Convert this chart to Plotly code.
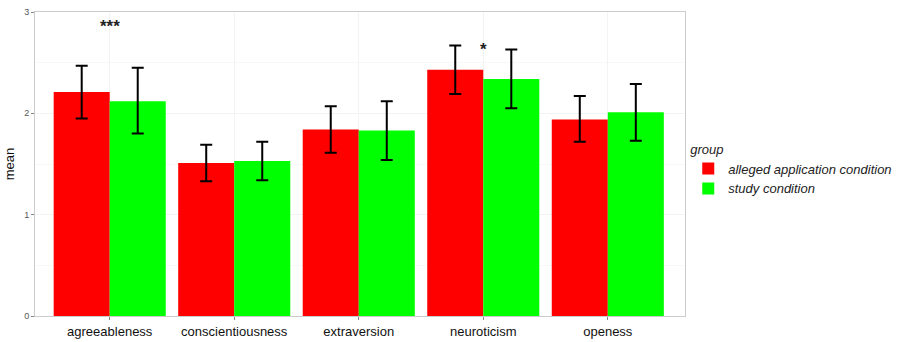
import plotly.graph_objects as go

categories = ["agreeableness", "conscientiousness", "extraversion", "neuroticism", "openess"]
groups = ["alleged application condition", "study condition"]
app_mean = [2.21, 1.51, 1.84, 2.43, 1.94]
app_low = [1.95, 1.33, 1.61, 2.19, 1.72]
app_high = [2.47, 1.69, 2.07, 2.67, 2.17]
study_mean = [2.12, 1.53, 1.83, 2.34, 2.01]
study_low = [1.80, 1.34, 1.54, 2.05, 1.73]
study_high = [2.45, 1.72, 2.12, 2.63, 2.29]
sig_labels = ["***", "", "", "*", ""]
sig_y = [2.86, None, None, 2.63, None]
y_ticks = [0, 1, 2, 3]

colors = ["#ff0000", "#00ff00"]

fig = go.Figure()
for name, m, lo, hi, c in [(groups[0], app_mean, app_low, app_high, colors[0]),
                           (groups[1], study_mean, study_low, study_high, colors[1])]:
    fig.add_trace(go.Bar(
        x=categories, y=m, name="<i>" + name + "</i>",
        marker=dict(color=c, line=dict(width=0)),
        error_y=dict(type="data", symmetric=False,
                     array=[h - v for h, v in zip(hi, m)],
                     arrayminus=[v - l for v, l in zip(m, lo)],
                     color="black", thickness=2, width=6),
    ))

for cat, lab, yv in zip(categories, sig_labels, sig_y):
    if lab:
        fig.add_annotation(x=cat, y=yv, text="<b>" + lab + "</b>", showarrow=False,
                           font=dict(size=17, color="#222222"), yanchor="middle")

fig.update_layout(
    width=907, height=342,
    margin=dict(l=35, r=222, t=12, b=26, autoexpand=False),
    paper_bgcolor="white", plot_bgcolor="white",
    barmode="group", bargap=0.1, bargroupgap=0,
    font=dict(family="Liberation Sans, Arial, sans-serif", color="#222222"),
    showlegend=True,
    legend=dict(
        title=dict(text="<i>group</i>", font=dict(size=13)),
        font=dict(size=13), x=1.005, xanchor="left", y=0.59, yanchor="top",
        itemsizing="constant", tracegroupgap=0, traceorder="normal",
    ),
)
fig.update_xaxes(
    range=[-0.6, 4.62], showline=True, linecolor="#cccccc", mirror=True,
    showgrid=True, gridcolor="#f3f3f3", ticks="outside", ticklen=3,
    tickcolor="#888888", tickfont=dict(size=13, color="#111111"),
    automargin=False,
)
fig.update_yaxes(
    range=[0, 3], tickvals=y_ticks, showline=True, linecolor="#cccccc", mirror=True,
    showgrid=True, gridcolor="#f3f3f3", ticks="outside", ticklen=3,
    tickcolor="#888888", tickfont=dict(size=9, color="#555555"),
    minor=dict(dtick=0.5, showgrid=True, gridcolor="#f8f8f8"),
    title=dict(text="mean", font=dict(size=13, color="#111111"), standoff=6),
    zeroline=False, automargin=False,
)

fig.write_html("out.html")
